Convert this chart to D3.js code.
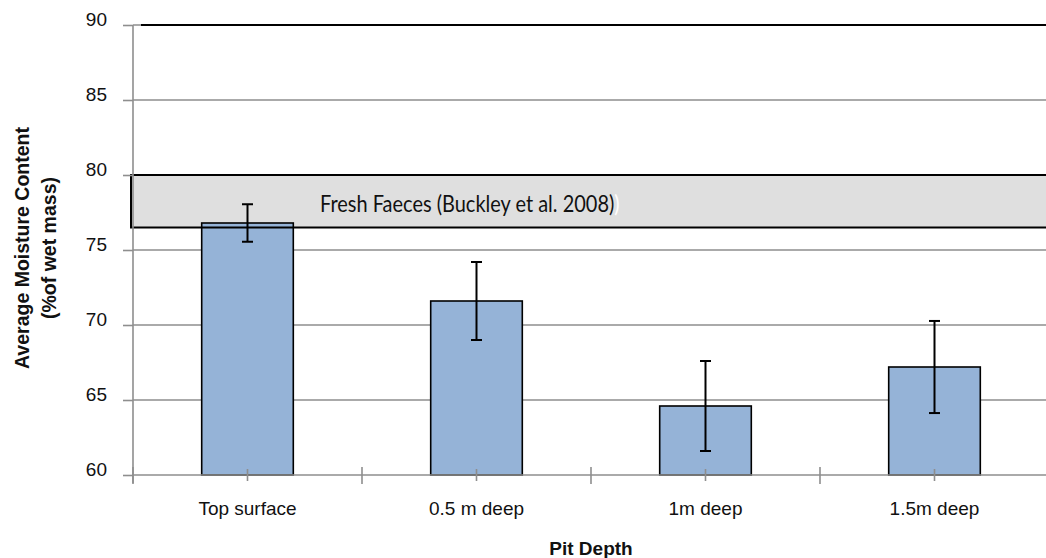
<!DOCTYPE html>
<html>
<head>
<meta charset="utf-8">
<script src="https://cdn.jsdelivr.net/npm/d3@7"></script>
<style>
  html, body { margin: 0; padding: 0; background: #fff; }
  svg { display: block; }
</style>
</head>
<body>
<script>
// ---- data ----
const categories = ["Top surface", "0.5 m deep", "1m deep", "1.5m deep"];
const moisture = [76.8, 71.6, 64.6, 67.2];
const errors = [1.25, 2.6, 3.0, 3.07];
const yTicks = [60, 65, 70, 75, 80, 85, 90];
const referenceBand = { low: 76.5, high: 80, label: "Fresh Faeces (Buckley et al. 2008)" };
const xTitle = "Pit Depth";
const yTitleLines = ["Average Moisture Content", "(%of wet mass)"];

// ---- layout ----
const W = 1046, H = 558;
const pLeft = 133, pRight = 1049, pTop = 25, pBottom = 475;
const font = "'Liberation Sans', Arial, sans-serif";

const svg = d3.select("body").append("svg").attr("width", W).attr("height", H);

const x = d3.scaleBand().domain(categories).range([pLeft, pRight]).padding(0);
const y = d3.scaleLinear().domain([60, 90]).range([pBottom, pTop]);
const barW = x.bandwidth() * 0.4;

// gridlines
svg.append("g").selectAll("line").data(yTicks.filter(d => d > 60)).join("line")
  .attr("x1", pLeft).attr("x2", W).attr("y1", d => y(d)).attr("y2", d => y(d))
  .attr("stroke", "#8e8e8e").attr("stroke-width", 1.6);

// top border line (black)
svg.append("line").attr("x1", pLeft + 8).attr("x2", W).attr("y1", y(90)).attr("y2", y(90))
  .attr("stroke", "#000").attr("stroke-width", 2);

// reference band fill
svg.append("rect")
  .attr("x", pLeft - 2).attr("y", y(referenceBand.high))
  .attr("width", W - pLeft + 10).attr("height", y(referenceBand.low) - y(referenceBand.high))
  .attr("fill", "#dfdfdf");

// bars
svg.append("g").selectAll("rect").data(categories).join("rect")
  .attr("x", d => x(d) + x.bandwidth() / 2 - barW / 2)
  .attr("y", (d, i) => y(moisture[i]))
  .attr("width", barW)
  .attr("height", (d, i) => y(60) - y(moisture[i]))
  .attr("fill", "#95b3d7").attr("stroke", "#000").attr("stroke-width", 1.6);

// reference band border
svg.append("rect")
  .attr("x", pLeft - 2).attr("y", y(referenceBand.high))
  .attr("width", W - pLeft + 10).attr("height", y(referenceBand.low) - y(referenceBand.high))
  .attr("fill", "none").attr("stroke", "#000").attr("stroke-width", 2);

const bandText = svg.append("text")
  .attr("transform", "translate(320,212) scale(0.85,1)")
  .attr("font-family", "Lato, 'Open Sans', sans-serif").attr("font-size", 23.5).attr("fill", "#111");
bandText.append("tspan").text(referenceBand.label);
bandText.append("tspan").attr("fill", "#fff").text(")");

// y axis
const yAxis = svg.append("g").attr("transform", `translate(${pLeft},0)`)
  .call(d3.axisLeft(y).tickValues(yTicks).tickSize(10).tickPadding(16).tickFormat(d3.format("d")));
yAxis.select(".domain").attr("stroke", "#8e8e8e").attr("stroke-width", 1.6)
  .attr("d", `M0,${pTop}V${pBottom + 8}`);
yAxis.selectAll(".tick line").attr("stroke", "#8e8e8e").attr("stroke-width", 1.6);
yAxis.selectAll(".tick text").attr("font-family", font).attr("font-size", 19)
  .attr("fill", "#111").attr("dy", "0.05em");

// x axis line
svg.append("line").attr("x1", pLeft).attr("x2", W).attr("y1", pBottom).attr("y2", pBottom)
  .attr("stroke", "#8e8e8e").attr("stroke-width", 1.6);
// major cross ticks at band boundaries
const bounds = categories.map(d => x(d)).concat([pRight]);
svg.append("g").selectAll("line").data(bounds).join("line")
  .attr("x1", d => d).attr("x2", d => d).attr("y1", pBottom - 8).attr("y2", pBottom + 9)
  .attr("stroke", "#8e8e8e").attr("stroke-width", 1.6);
// minor cross ticks at band centers
svg.append("g").selectAll("line").data(categories).join("line")
  .attr("x1", d => x(d) + x.bandwidth() / 2).attr("x2", d => x(d) + x.bandwidth() / 2)
  .attr("y1", pBottom - 6).attr("y2", pBottom + 6)
  .attr("stroke", "#8e8e8e").attr("stroke-width", 1.6);

// x labels
svg.append("g").selectAll("text").data(categories).join("text")
  .attr("x", d => x(d) + x.bandwidth() / 2).attr("y", 515)
  .attr("text-anchor", "middle").attr("font-family", font).attr("font-size", 19)
  .attr("fill", "#111").text(d => d);

// error bars
const eb = svg.append("g").attr("stroke", "#000").attr("stroke-width", 2);
categories.forEach((c, i) => {
  const cx = x(c) + x.bandwidth() / 2;
  const y1 = y(moisture[i] + errors[i]), y2 = y(moisture[i] - errors[i]);
  eb.append("line").attr("x1", cx).attr("x2", cx).attr("y1", y1).attr("y2", y2);
  eb.append("line").attr("x1", cx - 5.5).attr("x2", cx + 5.5).attr("y1", y1).attr("y2", y1);
  eb.append("line").attr("x1", cx - 5.5).attr("x2", cx + 5.5).attr("y1", y2).attr("y2", y2);
});

// titles
svg.append("text").attr("x", (pLeft + pRight) / 2).attr("y", 555)
  .attr("text-anchor", "middle").attr("font-family", font).attr("font-weight", "bold")
  .attr("font-size", 19).attr("fill", "#111").text(xTitle);

const yT = svg.append("g");
yTitleLines.forEach((t, i) => {
  yT.append("text")
    .attr("transform", `translate(${i === 0 ? 29 : 56},248) rotate(-90)`)
    .attr("text-anchor", "middle").attr("font-family", font).attr("font-weight", "bold")
    .attr("font-size", 19.5).attr("fill", "#111").text(t);
});
</script>
</body>
</html>
